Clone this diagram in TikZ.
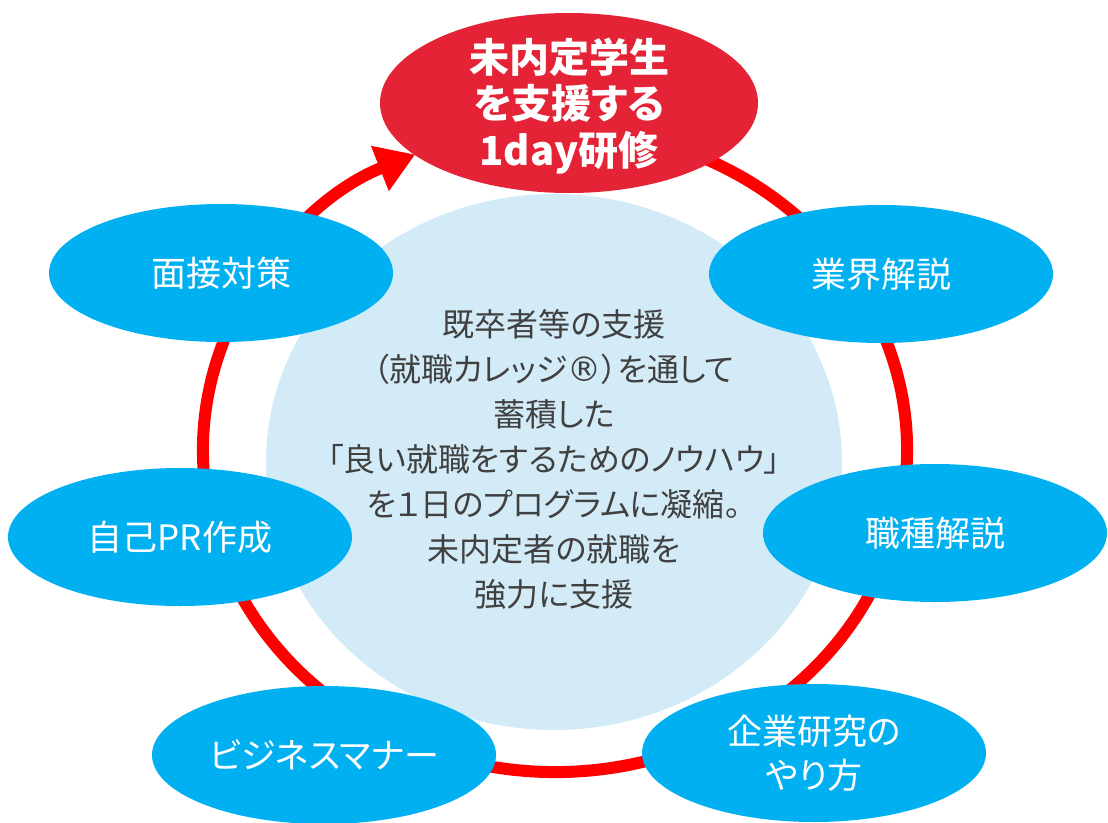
\documentclass[tikz,border=0pt]{standalone}
\usepackage{fontspec}
\usetikzlibrary{shapes.geometric,arrows.meta}
\newfontfamily\jp[RawFeature=+palt]{Noto Sans CJK JP}
\newfontfamily\dvreg{DejaVu Sans}
\newcommand{\bigreg}{{\dvreg\fontsize{34}{45}\selectfont ®}}
\definecolor{ringred}{HTML}{FF0000}
\definecolor{topred}{HTML}{E52337}
\definecolor{skyblue}{HTML}{00B0F0}
\definecolor{paleblue}{HTML}{D3EBF7}
\definecolor{textgray}{HTML}{404040}
\begin{document}
\begin{tikzpicture}[x=1pt,y=1pt,
  ringline/.style={draw=ringred, line width=12pt, -{Triangle[length=38pt,width=46pt]}},
  bubble/.style={ellipse, fill=skyblue, draw=none, inner sep=0pt, minimum width=344pt, minimum height=138pt},
  bubbletext/.style={text=white, align=center, font=\jp\fontsize{35}{44}\selectfont},
  centertext/.style={text=textgray, align=center, font=\jp\fontsize{32}{45}\selectfont},
  toptext/.style={text=white, align=center, font=\jp\bfseries\fontsize{40}{46.5}\selectfont}]
\useasboundingbox (0,0) rectangle (1108,-822);
% ring with arrow
\coordinate (ringstart) at ({555+352*cos(75)},{-450+322*sin(75)});
\draw[ringline] (ringstart) arc[start angle=75, end angle=-246.6, x radius=352pt, y radius=322pt];
% pale centre
\node[ellipse, fill=paleblue, draw=none, inner sep=0pt, minimum width=576pt, minimum height=536pt] (core) at (554,-462) {};
\node[centertext] (coretext) at (554,-459) {既卒者等の支援\\（就職カレッジ\bigreg）を通して\\蓄積した\\「良い就職をするためのノウハウ」\\を１日のプログラムに凝縮。\\未内定者の就職を\\強力に支援};
% bubbles
\node[bubble] (b1) at (221,-273) {};
\node[bubbletext] (t1) at (b1.center) {面接対策};
\node[bubble] (b2) at (881,-274) {};
\node[bubbletext] (t2) at (b2.center) {業界解説};
\node[bubble] (b3) at (180,-537) {};
\node[bubbletext] (t3) at (b3.center) {自己PR作成};
\node[bubble] (b4) at (935,-533) {};
\node[bubbletext] (t4) at (b4.center) {職種解説};
\node[bubble] (b5) at (324,-755) {};
\node[bubbletext] (t5) at (b5.center) {ビジネスマナー};
\node[bubble] (b6) at (814,-753) {};
\node[bubbletext] (t6) at (b6.center) {企業研究の\\やり方};
% top
\node[ellipse, fill=topred, draw=none, inner sep=0pt, minimum width=378pt, minimum height=180pt] (top) at (569,-103) {};
\node[toptext] (toptxt) at (569,-106) {未内定学生\\を支援する\\1day研修};
\end{tikzpicture}
\end{document}
